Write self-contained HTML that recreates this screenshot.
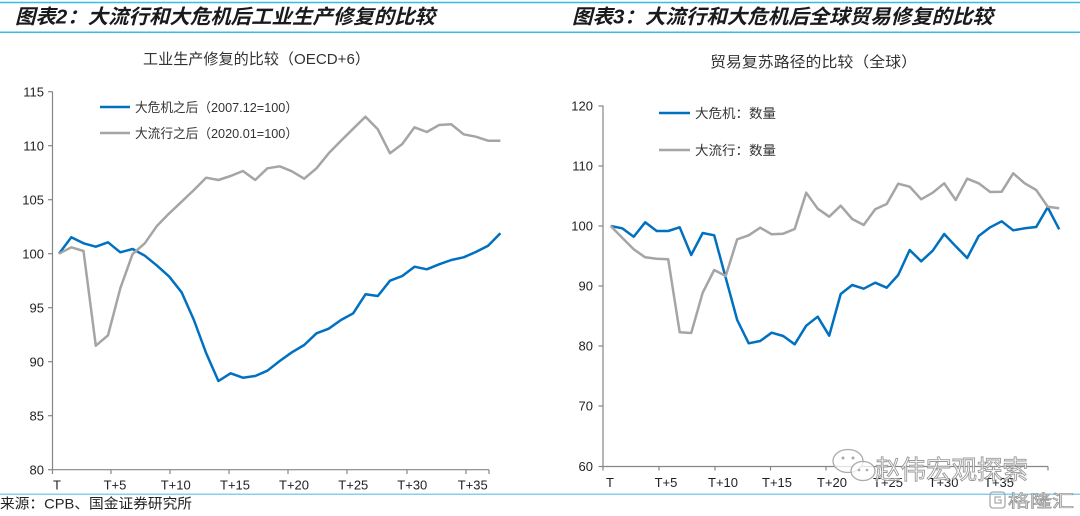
<!DOCTYPE html>
<html>
<head>
<meta charset="utf-8">
<style>
  html,body{margin:0;padding:0;background:#fff;}
  body{width:1080px;height:516px;overflow:hidden;}
  svg{display:block;}
  .t{font-family:"Liberation Sans","Noto Sans CJK SC",sans-serif;}
</style>
</head>
<body>
<svg width="1080" height="516" viewBox="0 0 1080 516" xmlns="http://www.w3.org/2000/svg">
  <rect width="1080" height="516" fill="#fff"/>

  <!-- header lines -->
  <line x1="0" y1="2.5" x2="1080" y2="2.5" stroke="#35bdea" stroke-width="1.5"/>
  <line x1="0" y1="32.3" x2="1080" y2="32.3" stroke="#35bdea" stroke-width="1.5"/>
  <line x1="0" y1="494.3" x2="1080" y2="494.3" stroke="#86d0ee" stroke-width="1.5"/>

  <!-- main titles -->
  <text class="t" x="15" y="23.5" font-size="20" font-weight="bold" font-style="italic" fill="#1a1a1a" textLength="420" lengthAdjust="spacingAndGlyphs">图表2：大流行和大危机后工业生产修复的比较</text>
  <text class="t" x="572" y="23.5" font-size="20" font-weight="bold" font-style="italic" fill="#1a1a1a" textLength="421" lengthAdjust="spacingAndGlyphs">图表3：大流行和大危机后全球贸易修复的比较</text>

  <!-- chart titles -->
  <text class="t" x="143" y="64" font-size="15" fill="#333" textLength="227" lengthAdjust="spacingAndGlyphs">工业生产修复的比较（OECD+6）</text>
  <text class="t" x="710" y="67" font-size="15" fill="#333" textLength="207" lengthAdjust="spacingAndGlyphs">贸易复苏路径的比较（全球）</text>

  <!-- ============ LEFT CHART ============ -->
  <g stroke="#868686" stroke-width="1.2" fill="none">
    <line x1="52.5" y1="91.5" x2="52.5" y2="470"/>
    <line x1="52" y1="469.7" x2="489" y2="469.7"/>
    <!-- y ticks -->
    <line x1="48" y1="91.7" x2="52.5" y2="91.7"/>
    <line x1="48" y1="145.7" x2="52.5" y2="145.7"/>
    <line x1="48" y1="199.7" x2="52.5" y2="199.7"/>
    <line x1="48" y1="253.7" x2="52.5" y2="253.7"/>
    <line x1="48" y1="307.7" x2="52.5" y2="307.7"/>
    <line x1="48" y1="361.7" x2="52.5" y2="361.7"/>
    <line x1="48" y1="415.7" x2="52.5" y2="415.7"/>
    <line x1="48" y1="469.7" x2="52.5" y2="469.7"/>
    <!-- x ticks -->
    <line x1="52.5" y1="469.7" x2="52.5" y2="474"/>
    <line x1="111" y1="469.7" x2="111" y2="474"/>
    <line x1="170" y1="469.7" x2="170" y2="474"/>
    <line x1="229" y1="469.7" x2="229" y2="474"/>
    <line x1="288" y1="469.7" x2="288" y2="474"/>
    <line x1="347" y1="469.7" x2="347" y2="474"/>
    <line x1="407" y1="469.7" x2="407" y2="474"/>
    <line x1="466" y1="469.7" x2="466" y2="474"/>
    <line x1="489" y1="469.7" x2="489" y2="474"/>
  </g>
  <g class="t" font-size="13" fill="#222" text-anchor="end">
    <text x="44" y="96.5">115</text>
    <text x="44" y="150.5">110</text>
    <text x="44" y="204.5">105</text>
    <text x="44" y="258.5">100</text>
    <text x="44" y="312.5">95</text>
    <text x="44" y="366.5">90</text>
    <text x="44" y="420.5">85</text>
    <text x="44" y="474.5">80</text>
  </g>
  <g class="t" font-size="13" fill="#222" text-anchor="middle">
    <text x="57" y="489.5">T</text>
    <text x="115" y="489.5">T+5</text>
    <text x="175.7" y="489.5">T+10</text>
    <text x="235" y="489.5">T+15</text>
    <text x="294" y="489.5">T+20</text>
    <text x="353.3" y="489.5">T+25</text>
    <text x="412.3" y="489.5">T+30</text>
    <text x="472.7" y="489.5">T+35</text>
  </g>

  <!-- left legend -->
  <line x1="100" y1="107" x2="130" y2="107" stroke="#0070c0" stroke-width="2.5"/>
  <text class="t" x="135" y="112" font-size="13" fill="#333" textLength="163" lengthAdjust="spacingAndGlyphs">大危机之后（2007.12=100）</text>
  <line x1="100" y1="133" x2="130" y2="133" stroke="#a5a5a5" stroke-width="2.5"/>
  <text class="t" x="135" y="138" font-size="13" fill="#333" textLength="163" lengthAdjust="spacingAndGlyphs">大流行之后（2020.01=100）</text>

  <!-- left series -->
  <path fill="none" stroke="#0070c0" stroke-width="2.5" stroke-linejoin="round"
    d="M59,253.7 L71.3,237.3 L83.5,243.3 L95.8,246.7 L108,242.3 L120.3,252.3 L132.6,249 L144.8,255.7 L157.1,265.7 L169.3,276.7 L181.6,292.3 L193.9,320 L206.1,353 L218.4,381 L230.6,373.3 L242.9,377.7 L255.2,376 L267.4,370.7 L279.7,361 L291.9,352.3 L304.2,345 L316.5,333.3 L328.7,328.7 L341,320 L353.2,313.3 L365.5,294.3 L377.8,296 L390,280.7 L402.3,276 L414.5,266.7 L426.8,269.3 L439.1,264.3 L451.3,260 L463.6,257.3 L475.8,252 L488.1,245.7 L500.4,233.3"/>
  <path fill="none" stroke="#a5a5a5" stroke-width="2.5" stroke-linejoin="round"
    d="M59,253.7 L71.3,247.3 L83.5,251 L95.8,345.7 L108,335.3 L120.3,288.3 L132.6,254 L144.8,243.3 L157.1,225.7 L169.3,213.3 L181.6,201.7 L193.9,190 L206.1,177.7 L218.4,180 L230.6,176 L242.9,171 L255.2,180 L267.4,168.3 L279.7,166.3 L291.9,171.3 L304.2,178.7 L316.5,168.3 L328.7,153.3 L341,140.7 L353.2,128.7 L365.5,116.7 L377.8,129.3 L390,153.3 L402.3,144 L414.5,127.3 L426.8,132 L439.1,125 L451.3,124.3 L463.6,134.3 L475.8,136.7 L488.1,140.7 L500.4,140.7"/>

  <!-- ============ RIGHT CHART ============ -->
  <g stroke="#868686" stroke-width="1.2" fill="none">
    <line x1="603" y1="105.5" x2="603" y2="467"/>
    <line x1="602.5" y1="466.5" x2="1048" y2="466.5"/>
    <line x1="598.5" y1="106" x2="603" y2="106"/>
    <line x1="598.5" y1="166" x2="603" y2="166"/>
    <line x1="598.5" y1="226" x2="603" y2="226"/>
    <line x1="598.5" y1="286" x2="603" y2="286"/>
    <line x1="598.5" y1="346" x2="603" y2="346"/>
    <line x1="598.5" y1="406" x2="603" y2="406"/>
    <line x1="598.5" y1="466.5" x2="603" y2="466.5"/>
    <line x1="603" y1="466.5" x2="603" y2="470.5"/>
    <line x1="659" y1="466.5" x2="659" y2="470.5"/>
    <line x1="715" y1="466.5" x2="715" y2="470.5"/>
    <line x1="770.5" y1="466.5" x2="770.5" y2="470.5"/>
    <line x1="826" y1="466.5" x2="826" y2="470.5"/>
    <line x1="881.5" y1="466.5" x2="881.5" y2="470.5"/>
    <line x1="937" y1="466.5" x2="937" y2="470.5"/>
    <line x1="992.5" y1="466.5" x2="992.5" y2="470.5"/>
    <line x1="1048" y1="466.5" x2="1048" y2="470.5"/>
  </g>
  <g class="t" font-size="13" fill="#222" text-anchor="end">
    <text x="593" y="110.5">120</text>
    <text x="593" y="170.5">110</text>
    <text x="593" y="230.5">100</text>
    <text x="593" y="290.5">90</text>
    <text x="593" y="350.5">80</text>
    <text x="593" y="410.5">70</text>
    <text x="593" y="471">60</text>
  </g>
  <g class="t" font-size="13" fill="#222" text-anchor="middle">
    <text x="610" y="487">T</text>
    <text x="666" y="487">T+5</text>
    <text x="723" y="487">T+10</text>
    <text x="777" y="487">T+15</text>
    <text x="832" y="487">T+20</text>
    <text x="888" y="487">T+25</text>
    <text x="943.5" y="487">T+30</text>
    <text x="999" y="487">T+35</text>
  </g>

  <!-- right legend -->
  <line x1="659" y1="113" x2="690" y2="113" stroke="#0070c0" stroke-width="2.5"/>
  <text class="t" x="695" y="118" font-size="13" fill="#333" textLength="81" lengthAdjust="spacingAndGlyphs">大危机：数量</text>
  <line x1="659" y1="150" x2="690" y2="150" stroke="#a5a5a5" stroke-width="2.5"/>
  <text class="t" x="695" y="155" font-size="13" fill="#333" textLength="81" lengthAdjust="spacingAndGlyphs">大流行：数量</text>

  <!-- right series -->
  <path fill="none" stroke="#0070c0" stroke-width="2.5" stroke-linejoin="round"
    d="M610.7,226 L622.2,228.3 L633.7,236.7 L645.2,222.3 L656.7,231 L668.2,231 L679.7,227.3 L691.2,255 L702.7,233 L714.2,235.3 L725.7,277.7 L737.2,320 L748.7,343.3 L760.2,341 L771.7,332.7 L783.2,336 L794.7,344.3 L806.2,325.7 L817.7,316.7 L829.2,335.7 L840.7,294 L852.2,285 L863.7,288.7 L875.2,282.7 L886.7,287.7 L898.2,275 L909.7,250 L921.2,261.3 L932.7,250.7 L944.2,234 L955.7,246.3 L967.2,258 L978.7,236 L990.2,227.3 L1001.7,221.3 L1013.2,230.3 L1024.7,228.3 L1036.2,227 L1047.7,207.3 L1059.2,229.3"/>
  <path fill="none" stroke="#a5a5a5" stroke-width="2.5" stroke-linejoin="round"
    d="M610.7,226 L622.2,237.7 L633.7,249.3 L645.2,257.3 L656.7,258.7 L668.2,259.3 L679.7,332.3 L691.2,333 L702.7,292.7 L714.2,270 L725.7,276 L737.2,239.3 L748.7,235.3 L760.2,227.7 L771.7,234.3 L783.2,233.7 L794.7,229 L806.2,192.7 L817.7,208.7 L829.2,216.7 L840.7,205.7 L852.2,219 L863.7,225 L875.2,209.3 L886.7,204 L898.2,183.7 L909.7,186.7 L921.2,199.3 L932.7,192.7 L944.2,183.3 L955.7,200 L967.2,178.7 L978.7,183.3 L990.2,192 L1001.7,191.7 L1013.2,173.3 L1024.7,183.3 L1036.2,190 L1047.7,206.7 L1059.2,208.3"/>

  <!-- source -->
  <text class="t" x="0" y="508.5" font-size="14" fill="#222" textLength="192" lengthAdjust="spacingAndGlyphs">来源：CPB、国金证券研究所</text>

  <!-- watermark: wechat icon -->
  <g fill="#fff" fill-opacity="0.75" stroke="#aaa" stroke-width="1.3">
    <ellipse cx="848" cy="461" rx="15" ry="11.5"/>
    <ellipse cx="863" cy="471" rx="12" ry="9.5"/>
  </g>
  <g fill="#aaa">
    <circle cx="843" cy="458" r="1.5"/>
    <circle cx="853" cy="458" r="1.5"/>
    <circle cx="859" cy="470" r="1.3"/>
    <circle cx="867" cy="470" r="1.3"/>
  </g>
  <text class="t" x="875" y="479" font-size="26" fill="#fff" fill-opacity="0.7" stroke="#999" stroke-width="0.9" textLength="153" lengthAdjust="spacingAndGlyphs">赵伟宏观探索</text>

  <!-- 格隆汇 logo -->
  <rect x="990" y="492" width="15" height="16" rx="3" fill="none" stroke="#aaa" stroke-width="1.3"/>
  <path d="M1001,497 L995,497 L995,503 L1001,503 L1001,500 L998,500" fill="none" stroke="#aaa" stroke-width="1.3"/>
  <text class="t" x="1008" y="507" font-size="17" fill="#fff" stroke="#999" stroke-width="0.8" textLength="66" lengthAdjust="spacingAndGlyphs">格隆汇</text>
</svg>
</body>
</html>
